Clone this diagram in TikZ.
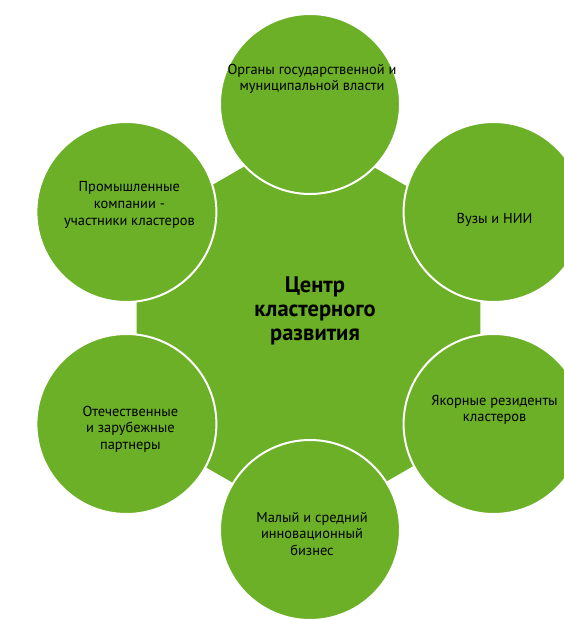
\documentclass[tikz,border=0pt]{standalone}
\usepackage{fontspec}
\setmainfont{PT Sans}
\usepackage{tikz}
\usetikzlibrary{shapes.geometric}
\usetikzlibrary{positioning}

\definecolor{leafgreen}{RGB}{107,176,38}

\begin{document}
\begin{tikzpicture}[x=1pt,y=1pt,
  hub node/.style={regular polygon,regular polygon sides=6,shape border rotate=30,
    fill=leafgreen,minimum size=397pt,inner sep=0pt},
  part node/.style={circle,fill=leafgreen,draw=white,line width=2pt,minimum size=180pt,inner sep=0pt},
  part text/.style={align=center,font=\fontsize{14.4}{16.6}\selectfont}]

  \useasboundingbox (-310,-302) rectangle (253,318);

  \node[hub node] (hub) at (-1.5,-10) {};
  \node[part node] (1) at (90:214) {};
  \node[part node] (2) at (30:212) {};
  \node[part node] (3) at (-30:212) {};
  \node[part node] (4) at (-90:212) {};
  \node[part node] (5) at (210:212) {};
  \node[part node] (6) at (150:212) {};

  \node[part text] (1t) at ([shift={(2,25)}]1) {Органы государственной и\\муниципальной власти};
  \node[part text] (2t) at ([shift={(1,-8)}]2) {Вузы и НИИ};
  \node[part text] (3t) at ([shift={(1,14)}]3) {Якорные резиденты\\кластеров};
  \node[part text] (4t) at ([shift={(2,-4)}]4) {Малый и средний\\инновационный\\бизнес};
  \node[part text] (5t) at ([shift={(4,-5)}]5) {Отечественные\\и зарубежные\\партнеры};
  \node[part text] (6t) at ([shift={(3,7)}]6) {Промышленные\\компании -\\участники кластеров};
  \node[align=center,font=\bfseries\fontsize{22.5}{24}\selectfont] (ht) at (5,7) {Центр\\кластерного\\развития};
\end{tikzpicture}
\end{document}
